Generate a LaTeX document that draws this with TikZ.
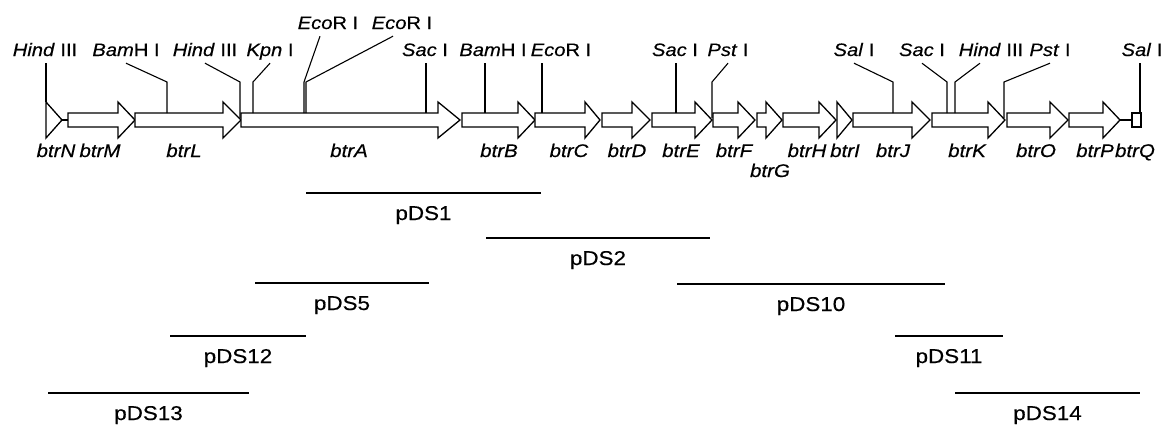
\documentclass[tikz,border=0pt]{standalone}
\usepackage{fontspec}
\setmainfont{Liberation Sans}[FakeStretch=1.12, FakeBold=0.4]
\usetikzlibrary{calc}
\tikzset{
  gene/.style={draw, line width=1.3pt, fill=white, line join=miter},
  gname/.style={font=\fontsize{18.3}{20}\selectfont\itshape, anchor=base, inner sep=0pt},
  site/.style={font=\fontsize{18}{20}\selectfont, anchor=base, inner xsep=0pt, inner ysep=7pt, text depth=0pt},
  leader/.style={line width=1.1pt},
  frag/.style={line width=1.4pt},
  pds/.style={font=\fontsize{20}{22}\selectfont, anchor=base, yshift=-27pt, inner sep=0pt}
}

\begin{document}
\begin{tikzpicture}[x=1pt, y=-1pt]
\useasboundingbox (0,0) rectangle (1167,429);
% gene cluster
\draw[gene] (62,120) -- (68,120);
\draw[gene] (1120,120) -- (1132,120);
\draw[gene] (46,102) -- (62,120) -- (46,138) -- cycle;
\foreach \s/\h/\e in {68/118/135, 135/223/241, 241/438/460, 462/518/535, 535/585/600,
    602/632/650, 652/695/712, 713/738/755, 757/766/782, 783/819/836,
    853/912/930, 932/988/1005, 1007/1050/1068, 1069/1103/1120}
  \draw[gene] (\s,113) -- (\h,113) -- (\h,102) -- (\e,120) -- (\h,138) -- (\h,127) -- (\s,127) -- cycle;
\draw[gene] (837,102) -- (852,120) -- (837,138) -- cycle;
\draw[gene] (1132,113) rectangle (1141,127);
\foreach \n/\gx in {N/56, M/100, L/184, A/349, B/499, C/569, D/627, E/681, F/734,
    H/807, I/845, J/893, K/967, O/1036, P/1095, Q/1135}
  \node[gname] (btr\n) at (\gx,157) {btr\n};
\node[gname] (btrG) at (770,177) {btrG};

% restriction sites
\node[site] (hindA) at (45,56) {\textit{Hind} III};
\node[site] (bamA) at (126,56) {\textit{Bam}H I};
\node[site] (hindB) at (205,56) {\textit{Hind} III};
\node[site] (kpn) at (270,56) {\textit{Kpn} I};
\node[site] (ecoA) at (328,29) {\textit{Eco}R I};
\node[site] (ecoB) at (402,29) {\textit{Eco}R I};
\node[site] (sacA) at (425,56) {\textit{Sac} I};
\node[site] (bamB) at (493,56) {\textit{Bam}H I};
\node[site] (ecoC) at (561,56) {\textit{Eco}R I};
\node[site] (sacB) at (675,56) {\textit{Sac} I};
\node[site] (pstA) at (728,56) {\textit{Pst} I};
\node[site] (salA) at (854,56) {\textit{Sal} I};
\node[site] (sacC) at (922,56) {\textit{Sac} I};
\node[site] (hindC) at (991,56) {\textit{Hind} III};
\node[site] (pstB) at (1050,56) {\textit{Pst} I};
\node[site] (salB) at (1142,56) {\textit{Sal} I};

\coordinate (bend) at (0,82);
\coordinate (cHindA) at (46,102);
\coordinate (cBamA) at (167,113);
\coordinate (cHindB) at (240,118);
\coordinate (cKpn) at (253,113);
\coordinate (cEcoA) at (304,113);
\coordinate (cEcoB) at (306,113);
\coordinate (cSacA) at (426,113);
\coordinate (cBamB) at (485,113);
\coordinate (cEcoC) at (542,113);
\coordinate (cSacB) at (676,113);
\coordinate (cPstA) at (712,118);
\coordinate (cSalA) at (893,113);
\coordinate (cSacC) at (947,113);
\coordinate (cHindC) at (955,113);
\coordinate (cPstB) at (1004,118);
\coordinate (cSalB) at (1140,113);

\foreach \l/\c in {hindA/cHindA, sacA/cSacA, bamB/cBamB, ecoC/cEcoC, sacB/cSacB, salB/cSalB}
  \draw[leader] (\c |- \l.south) -- (\c);
\foreach \l/\c in {bamA/cBamA, hindB/cHindB, kpn/cKpn, pstA/cPstA, salA/cSalA, sacC/cSacC, pstB/cPstB}
  \draw[leader] (\l.south) -- (\c |- bend) -- (\c);
\draw[leader] ([xshift=-8pt]ecoA.south) -- (cEcoA |- bend) -- (cEcoA);
\draw[leader] ([xshift=-9pt]ecoB.south) -- (cEcoB |- bend) -- (cEcoB);
\draw[leader] ([xshift=-11pt]hindC.south) -- (cHindC |- bend) -- (cHindC);

% subclones
\foreach \n/\a/\b/\y in {pDS1/306/541/193, pDS2/486/710/238, pDS5/255/429/283,
    pDS10/677/945/284, pDS12/170/306/336, pDS11/895/1003/336,
    pDS13/48/249/393, pDS14/955/1140/393}
  \draw[frag] (\a,\y) -- (\b,\y) node[pds, midway] (\n) {\n};
\end{tikzpicture}
\end{document}
